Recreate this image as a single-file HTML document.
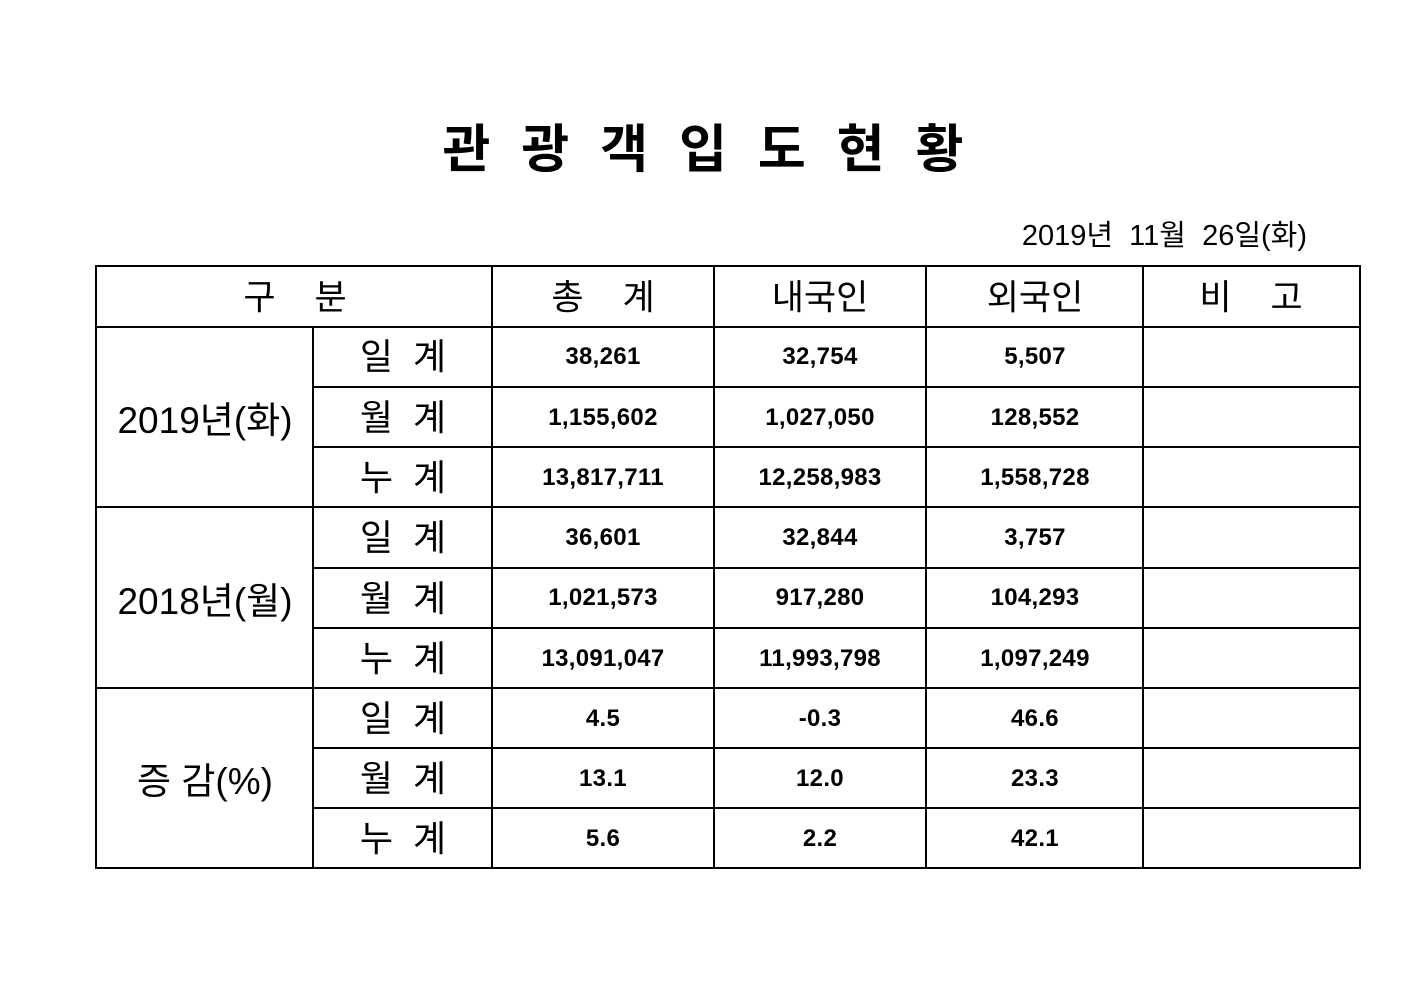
<!DOCTYPE html>
<html><head><meta charset="utf-8"><style>
body{margin:0;width:1403px;height:992px;background:#fff;position:relative;overflow:hidden;font-family:"Liberation Sans","Noto Sans CJK KR",sans-serif;color:#000}
.h{position:absolute;height:2px;background:#000}
.v{position:absolute;width:2px;background:#000}
.t{position:absolute;text-align:center;white-space:pre;transform:translate(-50%,-50%)}
.d{font-weight:bold;font-size:24px;letter-spacing:0.3px}
.l{font-size:35px}
.s{font-size:36px}
.y{font-size:37px}
</style></head><body>
<div class="t" style="left:703px;top:145px;font-size:52px;font-weight:bold;letter-spacing:31px;padding-left:31px">관광객입도현황</div>
<div style="position:absolute;right:96px;top:212px;font-size:29px;white-space:pre">2019년  11월  26일(화)</div>
<div class="h" style="left:95px;width:1266px;top:265px"></div>
<div class="h" style="left:95px;width:1266px;top:326px"></div>
<div class="h" style="left:313px;width:1048px;top:386px"></div>
<div class="h" style="left:313px;width:1048px;top:446px"></div>
<div class="h" style="left:95px;width:1266px;top:506px"></div>
<div class="h" style="left:313px;width:1048px;top:567px"></div>
<div class="h" style="left:313px;width:1048px;top:627px"></div>
<div class="h" style="left:95px;width:1266px;top:687px"></div>
<div class="h" style="left:313px;width:1048px;top:747px"></div>
<div class="h" style="left:313px;width:1048px;top:807px"></div>
<div class="h" style="left:95px;width:1266px;top:867px"></div>
<div class="v" style="left:95px;top:265px;height:604px"></div>
<div class="v" style="left:312px;top:326px;height:543px"></div>
<div class="v" style="left:491px;top:265px;height:604px"></div>
<div class="v" style="left:713px;top:265px;height:604px"></div>
<div class="v" style="left:925px;top:265px;height:604px"></div>
<div class="v" style="left:1142px;top:265px;height:604px"></div>
<div class="v" style="left:1359px;top:265px;height:604px"></div>
<div class="t l" style="left:295px;top:295px">구    분</div>
<div class="t l" style="left:603px;top:295px">총    계</div>
<div class="t l" style="left:820px;top:295px">내국인</div>
<div class="t l" style="left:1035px;top:295px">외국인</div>
<div class="t l" style="left:1251px;top:295px">비    고</div>
<div class="t y" style="left:205px;top:417px">2019년(화)</div>
<div class="t y" style="left:205px;top:598px">2018년(월)</div>
<div class="t y" style="left:205px;top:778px">증 감(%)</div>
<div class="t s" style="left:403px;top:354px">일  계</div>
<div class="t s" style="left:403px;top:415px">월  계</div>
<div class="t s" style="left:403px;top:475px">누  계</div>
<div class="t s" style="left:403px;top:535px">일  계</div>
<div class="t s" style="left:403px;top:596px">월  계</div>
<div class="t s" style="left:403px;top:656px">누  계</div>
<div class="t s" style="left:403px;top:716px">일  계</div>
<div class="t s" style="left:403px;top:776px">월  계</div>
<div class="t s" style="left:403px;top:836px">누  계</div>
<div class="t d" style="left:603px;top:357px">38,261</div><div class="t d" style="left:820px;top:357px">32,754</div><div class="t d" style="left:1035px;top:357px">5,507</div>
<div class="t d" style="left:603px;top:418px">1,155,602</div><div class="t d" style="left:820px;top:418px">1,027,050</div><div class="t d" style="left:1035px;top:418px">128,552</div>
<div class="t d" style="left:603px;top:478px">13,817,711</div><div class="t d" style="left:820px;top:478px">12,258,983</div><div class="t d" style="left:1035px;top:478px">1,558,728</div>
<div class="t d" style="left:603px;top:538px">36,601</div><div class="t d" style="left:820px;top:538px">32,844</div><div class="t d" style="left:1035px;top:538px">3,757</div>
<div class="t d" style="left:603px;top:598px">1,021,573</div><div class="t d" style="left:820px;top:598px">917,280</div><div class="t d" style="left:1035px;top:598px">104,293</div>
<div class="t d" style="left:603px;top:659px">13,091,047</div><div class="t d" style="left:820px;top:659px">11,993,798</div><div class="t d" style="left:1035px;top:659px">1,097,249</div>
<div class="t d" style="left:603px;top:719px">4.5</div><div class="t d" style="left:820px;top:719px">-0.3</div><div class="t d" style="left:1035px;top:719px">46.6</div>
<div class="t d" style="left:603px;top:779px">13.1</div><div class="t d" style="left:820px;top:779px">12.0</div><div class="t d" style="left:1035px;top:779px">23.3</div>
<div class="t d" style="left:603px;top:839px">5.6</div><div class="t d" style="left:820px;top:839px">2.2</div><div class="t d" style="left:1035px;top:839px">42.1</div>
</body></html>
